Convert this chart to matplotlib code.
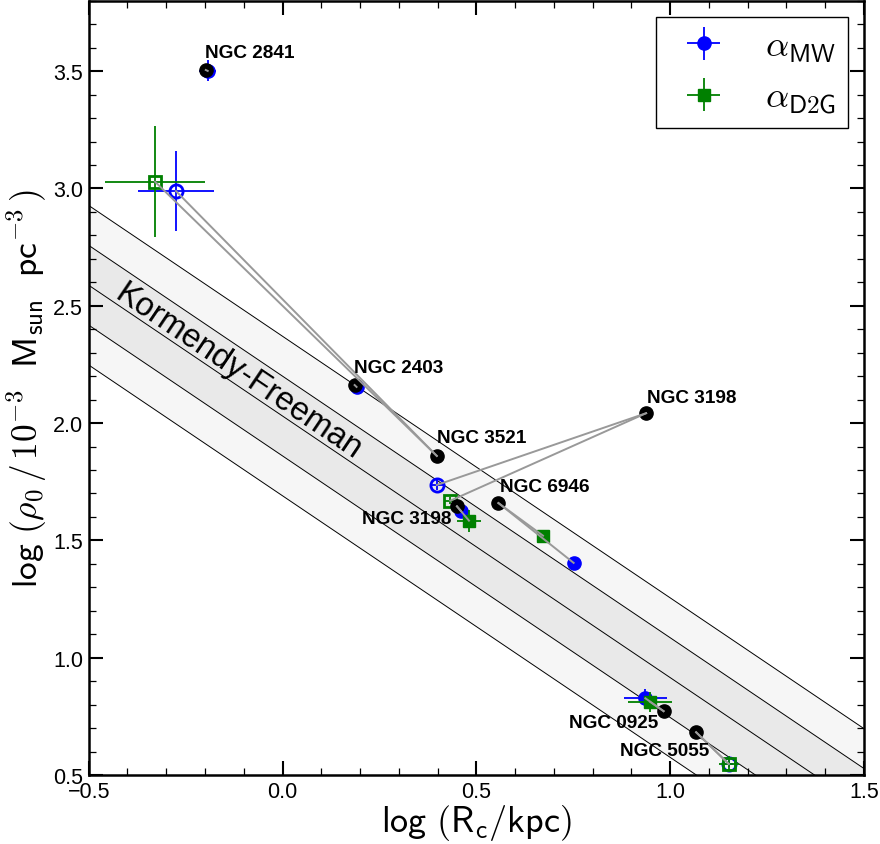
import matplotlib.pyplot as plt
import numpy as np
from matplotlib.ticker import MultipleLocator
from matplotlib.legend_handler import HandlerErrorbar
from matplotlib.container import ErrorbarContainer

plt.rcParams['font.family'] = ['Liberation Sans', 'DejaVu Sans']
plt.rcParams['mathtext.fontset'] = 'cm'

nan = np.nan

# Galaxien, schwarze Punkte = Referenzwerte
names = ['NGC 2841', 'NGC 2403', 'NGC 3521', 'NGC 3198', 'NGC 3198',
         'NGC 6946', 'NGC 0925', 'NGC 5055']
ref_x = [-0.198, 0.186, 0.398, 0.938, 0.450, 0.557, 0.983, 1.067]
ref_y = [3.505, 2.162, 1.860, 2.042, 1.645, 1.659, 0.772, 0.682]

# alpha_MW
mw_x = [-0.193, 0.191, -0.275, 0.398, 0.461, 0.751, 0.936, 1.151]
mw_y = [3.501, 2.154, 2.989, 1.736, 1.624, 1.404, 0.827, 0.547]
mw_xerr = [0.022, 0.010, 0.099, 0.015, 0.020, 0.010, 0.055, 0.012]
mw_yerr = [0.045, 0.010, 0.170, 0.020, 0.025, 0.010, 0.040, 0.015]

# alpha_D2G
d2g_x = [nan, nan, -0.329, 0.433, 0.481, 0.672, 0.948, 1.151]
d2g_y = [nan, nan, 3.029, 1.669, 1.584, 1.520, 0.812, 0.547]
d2g_xerr = [0.0, 0.0, 0.130, 0.015, 0.030, 0.010, 0.058, 0.026]
d2g_yerr = [0.0, 0.0, 0.236, 0.015, 0.047, 0.010, 0.043, 0.035]

# offene Symbole
open_fit = [False, False, True, True, False, False, False, True]

# Kormendy-Freeman Relation: log rho0 = zero + slope * log Rc, Streuung sig
kf_slope = -1.115
kf_zero = 2.03
kf_sig = 0.17

# Beschriftungsversatz (dx, dy, ha)
label_off = [(-0.002, 0.056, 'left'), (-0.001, 0.056, 'left'), (0.0, 0.058, 'left'),
             (0.003, 0.047, 'left'), (-0.014, -0.071, 'right'), (0.003, 0.053, 'left'),
             (-0.015, -0.069, 'right'), (0.034, -0.097, 'right')]

fig = plt.figure(figsize=(8.8, 8.45), dpi=100)
ax = fig.add_axes([0.1008, 0.0817, 0.881, 0.9162])

# Band
xx = np.array([-1.0, 2.0])
mid = kf_zero + kf_slope * xx
ax.fill_between(xx, mid - 2 * kf_sig, mid + 2 * kf_sig, color='#f6f6f6', lw=0, zorder=0)
ax.fill_between(xx, mid - kf_sig, mid + kf_sig, color='#e9e9e9', lw=0, zorder=0)
for k in [-2, -1, 0, 1, 2]:
    ax.plot(xx, mid + k * kf_sig, color='black', lw=0.7, zorder=1)

ax.text(-0.113, 2.22, 'Kormendy-Freeman', fontsize=23.5, rotation=-34,
        rotation_mode='anchor', ha='center', va='center', zorder=2)

blue = '#0000ff'
green = '#008000'
ms = 9.5

for i in range(len(names)):
    o = open_fit[i]
    ax.errorbar(mw_x[i], mw_y[i], xerr=mw_xerr[i], yerr=mw_yerr[i], fmt='o', ms=ms,
                color=blue, mfc='none' if o else blue, mew=2 if o else 1,
                elinewidth=1.3, capsize=0, zorder=3)
    if not np.isnan(d2g_x[i]):
        ax.errorbar(d2g_x[i], d2g_y[i], xerr=d2g_xerr[i], yerr=d2g_yerr[i], fmt='s',
                    ms=ms - 0.5, color=green, mfc='none' if o else green,
                    mew=2 if o else 1, elinewidth=1.3, capsize=0, zorder=4)

ax.plot(ref_x, ref_y, 'o', color='black', ms=ms, zorder=5)

# Verbindungslinien
for i in range(len(names)):
    for px, py in [(mw_x[i], mw_y[i]), (d2g_x[i], d2g_y[i])]:
        if not np.isnan(px):
            ax.plot([ref_x[i], px], [ref_y[i], py], color='#999999', lw=1.4, zorder=6)

for i, n in enumerate(names):
    dx, dy, ha = label_off[i]
    ax.text(ref_x[i] + dx, ref_y[i] + dy, n, fontsize=13.7, fontweight='bold',
            ha=ha, va='baseline', zorder=7)

# Legende
h_mw = ax.errorbar([], [], xerr=[], yerr=[], fmt='o', ms=ms, color=blue,
                   elinewidth=1.3, capsize=0)
h_d2g = ax.errorbar([], [], xerr=[], yerr=[], fmt='s', ms=ms - 0.5, color=green,
                    elinewidth=1.3, capsize=0)
leg = ax.legend([h_mw, h_d2g], [r'$\alpha_{\mathsf{MW}}$', r'$\alpha_{\mathsf{D2G}}$'],
                loc='upper right', fontsize=26, fancybox=False, framealpha=1,
                edgecolor='black', borderpad=0.33, handlelength=1.95,
                handletextpad=0.72, labelspacing=0.45, borderaxespad=0.45,
                handler_map={ErrorbarContainer: HandlerErrorbar(xerr_size=0.45)})
leg.get_frame().set_linewidth(1.0)

ax.set_xlim(-0.5, 1.5)
ax.set_ylim(0.5, 3.8)
ax.xaxis.set_major_locator(MultipleLocator(0.5))
ax.xaxis.set_minor_locator(MultipleLocator(0.1))
ax.yaxis.set_major_locator(MultipleLocator(0.5))
ax.yaxis.set_minor_locator(MultipleLocator(0.1))
ax.tick_params(which='both', direction='in', top=True, right=True, labelsize=15.5)
ax.tick_params(which='major', length=10, width=1.5, pad=4)
ax.tick_params(which='minor', length=5, width=0.9)
for s in ax.spines.values():
    s.set_linewidth(1.8)

ax.set_xlabel(r'$\mathsf{log\ (R_c/kpc)}$', fontsize=26, labelpad=0)
ax.set_ylabel(r'$\mathsf{log}\ (\rho_0\,/\,10^{-3}\ \ \mathsf{M_{sun}}\ \ \mathsf{pc}^{-3}\,)$',
              fontsize=25.5, labelpad=3)

plt.savefig('out.png', dpi=100)
